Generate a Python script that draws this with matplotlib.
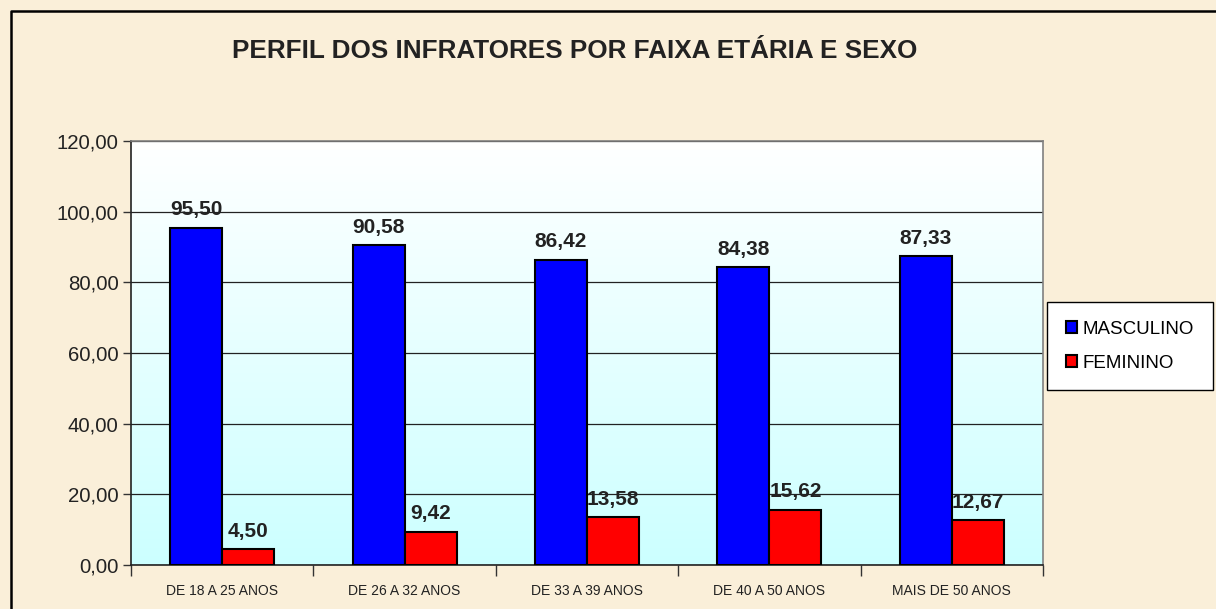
import matplotlib.pyplot as plt
import numpy as np
from matplotlib.lines import Line2D

# dados do gráfico
faixas = ['DE 18 A 25 ANOS', 'DE 26 A 32 ANOS', 'DE 33 A 39 ANOS', 'DE 40 A 50 ANOS', 'MAIS DE 50 ANOS']
masculino = [95.50, 90.58, 86.42, 84.38, 87.33]
feminino = [4.50, 9.42, 13.58, 15.62, 12.67]
titulo = 'PERFIL DOS INFRATORES POR FAIXA ETÁRIA E SEXO'

plt.rcParams['font.family'] = ['Liberation Sans', 'DejaVu Sans']

fundo = '#FAEFD9'
fig = plt.figure(figsize=(12.16, 6.09), dpi=100, facecolor=fundo)
ax = fig.add_axes([131 / 1216, 44 / 609, 912 / 1216, 424 / 609])

# moldura da figura (só a esquerda e o topo aparecem)
x0 = 11 / 1216
y0 = 1 - 11 / 609
fig.add_artist(Line2D([x0, x0, 1.0], [0.0, y0, y0], transform=fig.transFigure,
                      color='black', lw=1.8))

# fundo em degradê da área de plotagem
grad = np.linspace(0, 1, 256).reshape(-1, 1)
cores = np.zeros((256, 1, 3))
cores[..., 0] = 1 - 0.2 * grad
cores[..., 1] = 1
cores[..., 2] = 1
ax.imshow(cores, extent=[0, 1, 0, 1], transform=ax.transAxes, aspect='auto',
          zorder=0, origin='upper')

x = np.arange(len(faixas))
w = 0.285
b1 = ax.bar(x - w / 2, masculino, w, color='#0000FF', edgecolor='black', lw=1.5,
            zorder=3, label='MASCULINO')
b2 = ax.bar(x + w / 2, feminino, w, color='#FF0000', edgecolor='black', lw=1.5,
            zorder=3, label='FEMININO')

for barras, vals in [(b1, masculino), (b2, feminino)]:
    for r, v in zip(barras, vals):
        ax.annotate(f'{v:.2f}'.replace('.', ','),
                    (r.get_x() + r.get_width() / 2, r.get_height()),
                    xytext=(0, 6), textcoords='offset points',
                    ha='center', va='bottom', fontsize=15, fontweight='bold',
                    color='#222222', zorder=4)

ax.set_xlim(-0.5, len(faixas) - 0.5)
ax.set_ylim(0, 120)
ax.set_yticks(np.arange(0, 121, 20))
ax.set_yticklabels([f'{v:.2f}'.replace('.', ',') for v in np.arange(0, 121, 20)],
                   fontsize=14.7, color='#222222')
ax.yaxis.grid(True, color='#222222', lw=0.9, zorder=1)
ax.set_axisbelow(True)

ax.set_xticks(x)
ax.set_xticklabels(faixas, fontsize=10, color='#222222')
ax.set_xticks(np.arange(-0.5, len(faixas), 1), minor=True)
ax.tick_params(axis='x', which='major', length=0, pad=14)
ax.tick_params(axis='x', which='minor', length=8, width=1, color='#333333')
ax.tick_params(axis='y', length=6, width=1, color='#333333', pad=3)

for s in ['left', 'bottom']:
    ax.spines[s].set_color('#222222')
    ax.spines[s].set_linewidth(1.2)
for s in ['top', 'right']:
    ax.spines[s].set_color('#808080')
    ax.spines[s].set_linewidth(1.2)

fig.text(575 / 1216, 1 - 51 / 609, titulo, ha='center', va='center',
         fontsize=18.8, fontweight='bold', color='#222222')

leg = fig.legend(handles=[b1, b2], loc='upper left',
                 bbox_to_anchor=(1047 / 1216, 1 - 302 / 609),
                 fontsize=13.5, frameon=True, fancybox=False, edgecolor='black',
                 facecolor='white', framealpha=1, handlelength=0.6, handleheight=0.6,
                 handletextpad=0.3, labelspacing=0.9, borderpad=1.0, borderaxespad=0)
leg.get_frame().set_linewidth(1.0)

fig.savefig('out.png', dpi=100, facecolor=fundo)
